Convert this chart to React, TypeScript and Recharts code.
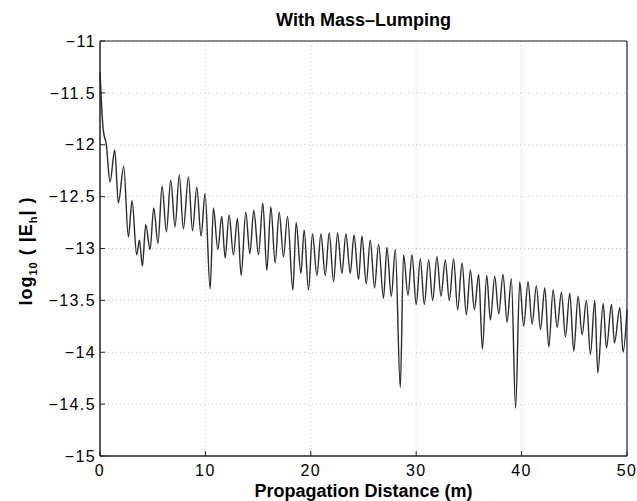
import React from 'react';
import { LineChart, Line, XAxis, YAxis, CartesianGrid, Label } from 'recharts';

// peaks and troughs of the trace
const distance = [
  0, 0.3, 0.6, 0.95, 1.4, 1.74, 2.25, 2.69, 3.04, 3.48, 3.74, 4.02, 4.34, 4.75, 5.1, 5.5,
  5.89, 6.3, 6.71, 7.12, 7.52, 7.91, 8.39, 8.78, 9.18, 9.59, 9.97, 10.45, 10.76, 11.18,
  11.55, 11.87, 12.25, 12.66, 13.04, 13.39, 13.83, 14.22, 14.59, 15.04, 15.45, 15.83,
  16.21, 16.62, 17.0, 17.41, 17.79, 18.3, 18.61, 19.06, 19.37, 19.78, 20.16, 20.58,
  20.96, 21.37, 21.75, 22.16, 22.54, 22.95, 23.33, 23.74, 24.1, 24.53, 24.85, 25.26,
  25.64, 26.05, 26.43, 26.9, 27.22, 27.64, 28.02, 28.49, 28.8, 29.22, 29.6, 30.0,
  30.39, 30.77, 31.18, 31.56, 31.97, 32.35, 32.76, 33.14, 33.55, 33.93, 34.35, 34.76,
  35.14, 35.52, 35.93, 36.28, 36.69, 37.04, 37.45, 37.83, 38.24, 38.62, 39.03, 39.43,
  39.82, 40.2, 40.61, 41.0, 41.4, 41.79, 42.2, 42.58, 42.99, 43.37, 43.78, 44.16,
  44.57, 44.95, 45.36, 45.74, 46.15, 46.53, 46.94, 47.23, 47.74, 48.05, 48.53, 48.81,
  49.32, 49.63, 50.0,
];

const logE = [
  -11.3, -11.85, -12.0, -12.36, -12.05, -12.56, -12.21, -12.89, -12.54, -13.06, -12.92, -13.17,
  -12.77, -13.01, -12.61, -12.95, -12.4, -12.84, -12.34, -12.79, -12.29, -12.81, -12.31, -12.83,
  -12.41, -12.88, -12.47, -13.39, -12.61, -13.01, -12.69, -13.09, -12.68, -13.06, -12.71, -13.26,
  -12.65, -13.05, -12.63, -13.06, -12.56, -13.21, -12.6, -13.14, -12.65, -13.08, -12.69, -13.4,
  -12.75, -13.24, -12.82, -13.4, -12.86, -13.26, -12.86, -13.26, -12.85, -13.32, -12.85, -13.24,
  -12.86, -13.24, -12.87, -13.3, -12.88, -13.34, -12.92, -13.38, -12.96, -13.48, -12.99, -13.46,
  -13.01, -14.34, -13.06, -13.45, -13.06, -13.54, -13.1, -13.54, -13.11, -13.5, -13.08, -13.46,
  -13.11, -13.5, -13.1, -13.59, -13.14, -13.64, -13.21, -13.59, -13.25, -13.97, -13.26, -13.69,
  -13.27, -13.63, -13.25, -13.71, -13.29, -14.54, -13.32, -13.75, -13.32, -13.73, -13.36, -13.78,
  -13.38, -13.95, -13.4, -13.76, -13.42, -13.85, -13.43, -13.99, -13.46, -13.83, -13.5, -14.02,
  -13.5, -14.2, -13.53, -13.96, -13.54, -13.91, -13.57, -14.0, -13.59,
];

const xTicks = [0, 10, 20, 30, 40, 50];
const yTicks = [-15, -14.5, -14, -13.5, -13, -12.5, -12, -11.5, -11];

const data = distance.map((x, i) => ({ x, y: logE[i] }));

const FONT = '"Liberation Sans", Arial, Helvetica, sans-serif';
const minus = (v: number) => String(v).replace('-', '\u2212');

const tickStyle = { fill: '#000', fontSize: 16, fontFamily: FONT, letterSpacing: 1.4 };

export default function App() {
  return (
    <div style={{ position: 'absolute', left: 0, top: 0, width: 637, height: 501, background: '#fff' }}>
      <div
        style={{
          position: 'absolute', left: 100, top: 11, width: 527, textAlign: 'center',
          fontFamily: FONT, fontWeight: 'bold', fontSize: 18, lineHeight: '18px', color: '#000',
        }}
      >
        With Mass–Lumping
      </div>
      <LineChart width={637} height={501} data={data} margin={{ top: 40, right: 9, bottom: 0, left: 0 }}>
        <CartesianGrid stroke="#c4c4c4" strokeDasharray="1 3" />
        <XAxis
          dataKey="x"
          type="number"
          domain={[0, 50]}
          ticks={xTicks}
          interval={0}
          height={45}
          tickSize={-5}
          tickMargin={14}
          tick={tickStyle}
          axisLine={{ stroke: '#222', strokeWidth: 1.5 }}
          tickLine={{ stroke: '#222' }}
        >
          <Label
            content={(props: any) => {
              const vb = props.viewBox || { x: 100, y: 456, width: 527 };
              return (
                <text x={vb.x + vb.width / 2} y={vb.y + 41} textAnchor="middle"
                  fontFamily={FONT} fontWeight="bold" fontSize={18} fill="#000">
                  Propagation Distance (m)
                </text>
              );
            }}
          />
        </XAxis>
        <XAxis
          xAxisId="top"
          orientation="top"
          type="number"
          domain={[0, 50]}
          ticks={xTicks}
          height={1}
          tick={false}
          tickSize={-5}
          axisLine={{ stroke: '#222', strokeWidth: 1.2 }}
          tickLine={{ stroke: '#222' }}
        />
        <YAxis
          type="number"
          domain={[-15, -11]}
          ticks={yTicks}
          interval={0}
          width={100}
          tickSize={-5}
          tickMargin={9}
          tick={tickStyle}
          tickFormatter={minus}
          axisLine={{ stroke: '#222', strokeWidth: 1.5 }}
          tickLine={{ stroke: '#222' }}
        >
          <Label
            content={() => {
              const cx = 32;
              const cy = 251;
              return (
                <text x={cx} y={cy} transform={`rotate(-90, ${cx}, ${cy})`} textAnchor="middle"
                  fontFamily={FONT} fontWeight="bold" fontSize={18} fill="#000" letterSpacing={1}>
                  <tspan>log</tspan>
                  <tspan fontSize={11} dy={5}>10</tspan>
                  <tspan dy={-5}> (  |E</tspan>
                  <tspan fontSize={11} dy={5}>h</tspan>
                  <tspan dy={-5}>|  )</tspan>
                </text>
              );
            }}
          />
        </YAxis>
        <YAxis
          yAxisId="right"
          orientation="right"
          type="number"
          domain={[-15, -11]}
          ticks={yTicks}
          width={1}
          tick={false}
          tickSize={-5}
          axisLine={{ stroke: '#222', strokeWidth: 1.2 }}
          tickLine={{ stroke: '#222' }}
        />
        <Line
          dataKey="y"
          type="monotone"
          stroke="#2a2a2a"
          strokeWidth={1.4}
          dot={false}
          isAnimationActive={false}
        />
      </LineChart>
    </div>
  );
}
